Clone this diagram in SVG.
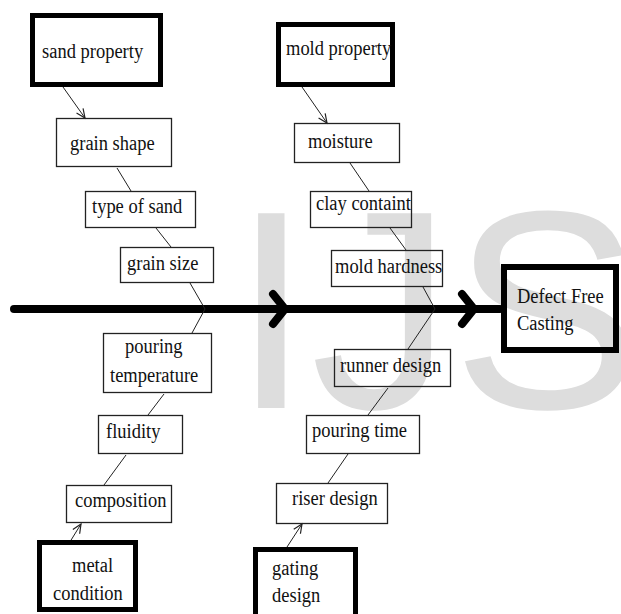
<svg xmlns="http://www.w3.org/2000/svg" width="621" height="614" viewBox="0 0 621 614">
<style>
.wm{font-family:"Liberation Sans",Arial,sans-serif;font-size:283px;fill:#dddddd}
.t{font-family:"Liberation Serif","Times New Roman",serif;font-size:18.5px;fill:#111}
.box{fill:none;stroke:#222;stroke-width:1.3}
.tbox{fill:none;stroke:#000;stroke-width:5}
.ln{fill:none;stroke:#222;stroke-width:1}
.spine{fill:none;stroke:#000;stroke-width:8;stroke-linecap:round;stroke-linejoin:miter}
</style>
<defs>
<marker id="arr" markerUnits="userSpaceOnUse" markerWidth="12" markerHeight="12" refX="10" refY="5" orient="auto">
<path d="M1,1 L10,5 L1,9" fill="none" stroke="#222" stroke-width="1.2"/>
</marker>
</defs>
<rect width="621" height="614" fill="#fff"/>
<text class="wm" x="232" y="408">IJS</text>

<g id="connectors">
<line class="spine" x1="14" y1="309" x2="500" y2="309"/>
<polyline class="spine" points="273,294 285,309 273,324"/>
<polyline class="spine" points="462,294 474,309 462,324"/>
<line class="ln" x1="63" y1="87" x2="85" y2="118" marker-end="url(#arr)"/>
<line class="ln" x1="117" y1="168" x2="131" y2="191"/>
<line class="ln" x1="156" y1="228" x2="171" y2="247"/>
<polyline class="ln" points="190,283 205,309 192,333"/>
<line class="ln" x1="164" y1="394" x2="148" y2="415"/>
<line class="ln" x1="126" y1="455" x2="104" y2="485"/>
<line class="ln" x1="68" y1="545" x2="81" y2="524" marker-end="url(#arr)"/>
<line class="ln" x1="302" y1="87" x2="327" y2="123" marker-end="url(#arr)"/>
<line class="ln" x1="350" y1="163" x2="369" y2="191"/>
<line class="ln" x1="390" y1="228" x2="406" y2="250"/>
<polyline class="ln" points="423,287 435,309 408,349"/>
<line class="ln" x1="388" y1="388" x2="368" y2="415"/>
<line class="ln" x1="348" y1="454" x2="328" y2="483"/>
<line class="ln" x1="287" y1="547" x2="302" y2="524" marker-end="url(#arr)"/>
</g>

<g id="sand-property">
<rect class="tbox" x="32.5" y="15.5" width="128" height="69"/>
<text class="t" transform="translate(42 58) scale(1 1.18)">sand property</text>
</g>
<g id="grain-shape">
<rect class="box" x="56.5" y="118.5" width="115" height="48"/>
<text class="t" transform="translate(70 150) scale(1 1.18)">grain shape</text>
</g>
<g id="type-of-sand">
<rect class="box" x="85.5" y="191.5" width="110" height="36"/>
<text class="t" transform="translate(92 213) scale(1 1.18)">type of sand</text>
</g>
<g id="grain-size">
<rect class="box" x="120.5" y="247.5" width="93" height="35"/>
<text class="t" transform="translate(127 270) scale(1 1.18)">grain size</text>
</g>

<g id="mold-property">
<rect class="tbox" x="278.5" y="24.5" width="114" height="60"/>
<text class="t" transform="translate(286 55) scale(1 1.18)">mold property</text>
</g>
<g id="moisture">
<rect class="box" x="294.5" y="123.5" width="105" height="39"/>
<text class="t" transform="translate(308 148) scale(1 1.18)">moisture</text>
</g>
<g id="clay-containt">
<rect class="box" x="310.5" y="191.5" width="101" height="36"/>
<text class="t" transform="translate(316 210) scale(1 1.18)">clay containt</text>
</g>
<g id="mold-hardness">
<rect class="box" x="331.5" y="250.5" width="111" height="36"/>
<text class="t" transform="translate(335 273) scale(1 1.18)">mold hardness</text>
</g>

<g id="defect-free-casting">
<rect x="504" y="267" width="112" height="83" fill="none" stroke="#000" stroke-width="6"/>
<text class="t" transform="translate(517 303) scale(1 1.18)">Defect Free</text>
<text class="t" transform="translate(517 330) scale(1 1.18)">Casting</text>
</g>

<g id="pouring-temperature">
<rect class="box" x="103.5" y="333.5" width="108" height="59"/>
<text class="t" transform="translate(125 353) scale(1 1.18)">pouring</text>
<text class="t" transform="translate(110 382) scale(1 1.18)">temperature</text>
</g>
<g id="fluidity">
<rect class="box" x="98.5" y="415.5" width="84" height="38"/>
<text class="t" transform="translate(106 438) scale(1 1.18)">fluidity</text>
</g>
<g id="composition">
<rect class="box" x="66.5" y="485.5" width="105" height="37"/>
<text class="t" transform="translate(75 507) scale(1 1.18)">composition</text>
</g>
<g id="metal-condition">
<rect class="tbox" x="39.5" y="542.5" width="96" height="67"/>
<text class="t" transform="translate(72 572) scale(1 1.18)">metal</text>
<text class="t" transform="translate(53 600) scale(1 1.18)">condition</text>
</g>

<g id="runner-design">
<rect class="box" x="334.5" y="349.5" width="116" height="37"/>
<text class="t" transform="translate(340 372) scale(1 1.18)">runner design</text>
</g>
<g id="pouring-time">
<rect class="box" x="306.5" y="415.5" width="113" height="38"/>
<text class="t" transform="translate(312 437) scale(1 1.18)">pouring time</text>
</g>
<g id="riser-design">
<rect class="box" x="276.5" y="483.5" width="111" height="40"/>
<text class="t" transform="translate(292 505) scale(1 1.18)">riser design</text>
</g>
<g id="gating-design">
<rect class="tbox" x="255.5" y="549.5" width="100" height="72"/>
<text class="t" transform="translate(272 575) scale(1 1.18)">gating</text>
<text class="t" transform="translate(272 602) scale(1 1.18)">design</text>
</g>
</svg>
